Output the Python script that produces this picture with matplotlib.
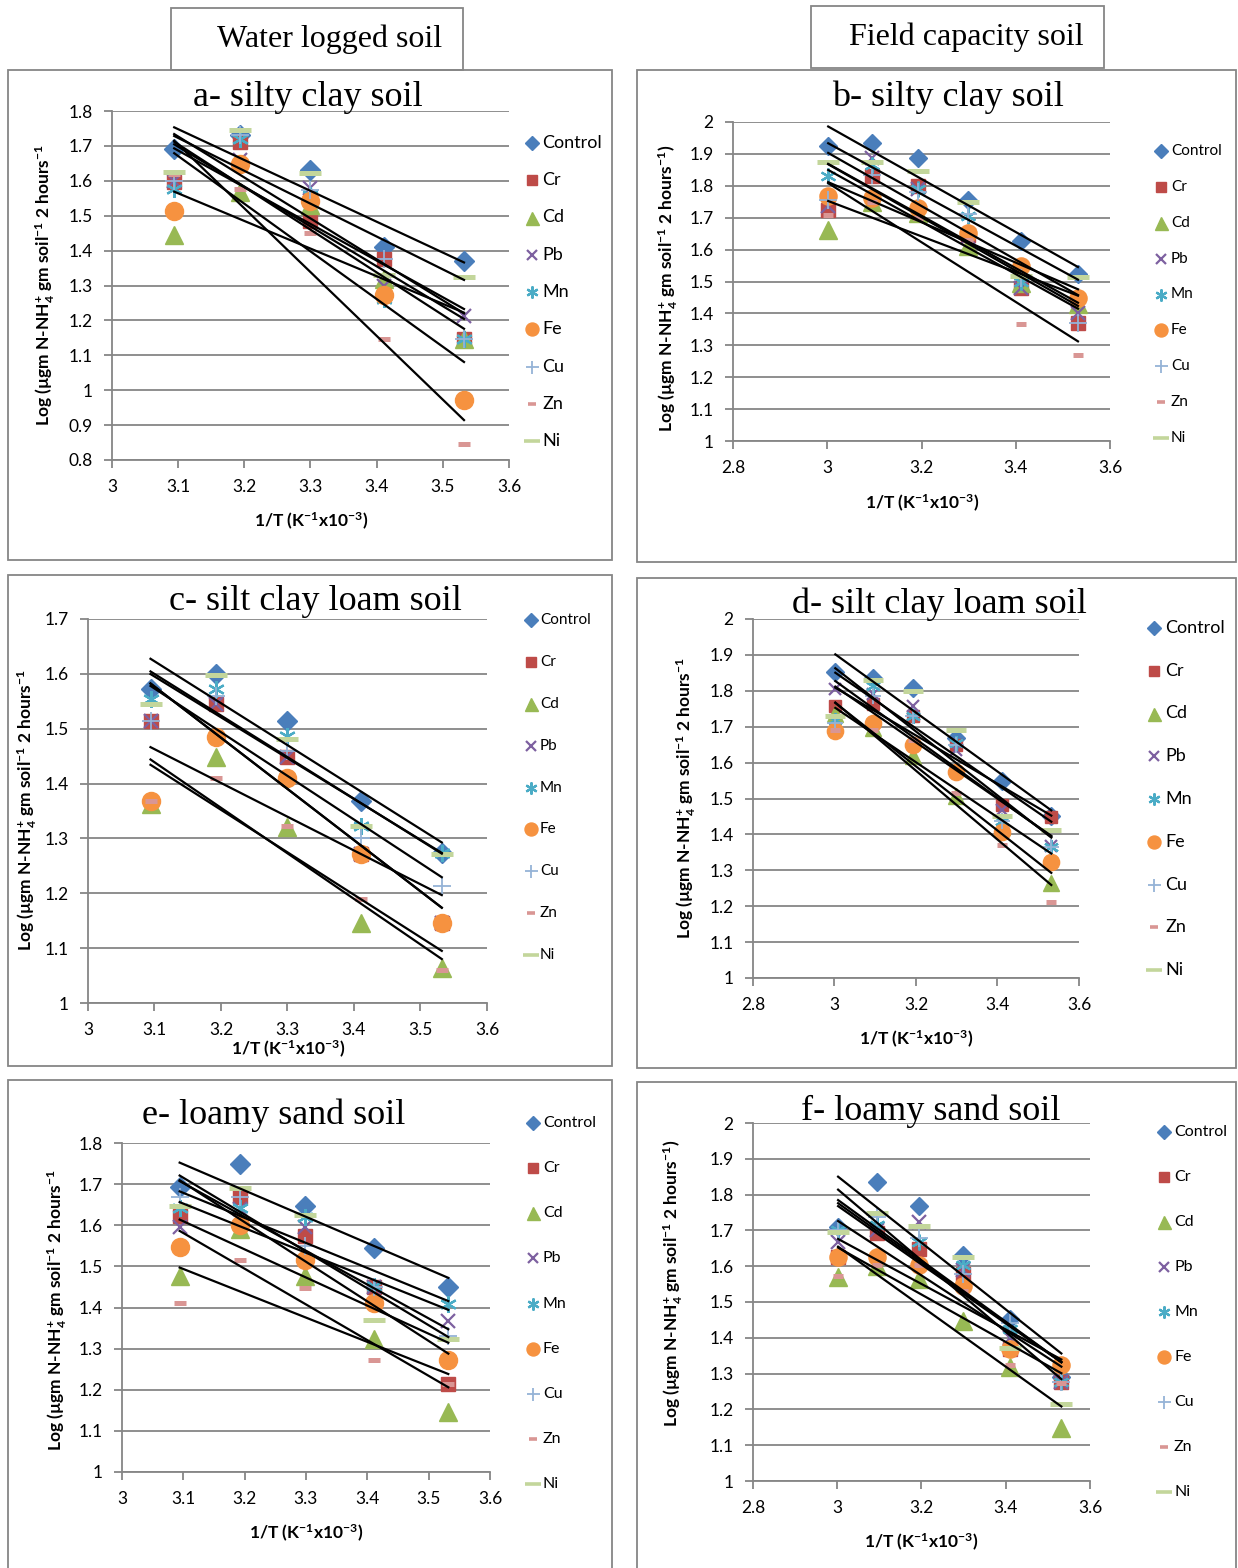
# -*- coding: utf-8 -*-
"""
Arrhenius plots: log NH4+ release vs 1/T for six soils with heavy metal treatments
"""
import numpy as np
import matplotlib.pyplot as plt
from matplotlib.lines import Line2D
from matplotlib.patches import Rectangle
from matplotlib.ticker import FuncFormatter

plt.rcParams['font.family'] = ['Lato', 'DejaVu Sans']
plt.rcParams['mathtext.fontset'] = 'custom'
plt.rcParams['mathtext.rm'] = 'Lato'
plt.rcParams['mathtext.bf'] = 'Lato:bold'
plt.rcParams['mathtext.it'] = 'Lato:italic'

# ---- data ----
metals = ['Control', 'Cr', 'Cd', 'Pb', 'Mn', 'Fe', 'Cu', 'Zn', 'Ni']
x5 = [3.094, 3.193, 3.299, 3.411, 3.532]          # 1/T, 50..10 C
x6 = [3.002, 3.094, 3.193, 3.299, 3.411, 3.532]   # 1/T, 60..10 C

# a- silty clay soil, water logged
vals_a = [[1.69, 1.73, 1.63, 1.41, 1.37],
          [1.596, 1.71, 1.485, 1.375, 1.147],
          [1.444, 1.567, 1.53, 1.318, 1.147],
          [1.60, 1.66, 1.58, 1.30, 1.212],
          [1.577, 1.72, 1.56, 1.26, 1.147],
          [1.514, 1.649, 1.543, 1.272, 0.971],
          [1.60, 1.73, 1.575, 1.375, 1.147],
          [1.62, 1.577, 1.45, 1.147, 0.845],
          [1.625, 1.745, 1.622, 1.33, 1.323]]
# b- silty clay soil, field capacity
vals_b = [[1.924, 1.934, 1.887, 1.757, 1.626, 1.525],
          [1.725, 1.83, 1.80, 1.647, 1.48, 1.37],
          [1.663, 1.75, 1.715, 1.61, 1.496, 1.43],
          [1.736, 1.887, 1.79, 1.64, 1.48, 1.40],
          [1.83, 1.866, 1.79, 1.705, 1.50, 1.45],
          [1.767, 1.762, 1.73, 1.652, 1.548, 1.447],
          [1.757, 1.835, 1.78, 1.713, 1.51, 1.37],
          [1.71, 1.75, 1.70, 1.63, 1.368, 1.271],
          [1.874, 1.874, 1.846, 1.749, 1.517, 1.515]]
# c- silt clay loam soil, water logged
vals_c = [[1.572, 1.60, 1.514, 1.368, 1.274],
          [1.514, 1.545, 1.448, 1.271, 1.146],
          [1.362, 1.448, 1.32, 1.146, 1.064],
          [1.514, 1.545, 1.448, 1.271, 1.146],
          [1.554, 1.572, 1.487, 1.323, 1.274],
          [1.368, 1.484, 1.411, 1.271, 1.146],
          [1.514, 1.56, 1.46, 1.30, 1.213],
          [1.368, 1.41, 1.323, 1.19, 1.06],
          [1.545, 1.598, 1.482, 1.323, 1.271]]
# d- silt clay loam soil, field capacity
vals_d = [[1.851, 1.837, 1.809, 1.669, 1.548, 1.45],
          [1.758, 1.762, 1.73, 1.65, 1.483, 1.448],
          [1.734, 1.697, 1.618, 1.508, 1.42, 1.264],
          [1.804, 1.79, 1.758, 1.636, 1.469, 1.368],
          [1.72, 1.814, 1.73, 1.655, 1.436, 1.366],
          [1.688, 1.711, 1.648, 1.573, 1.408, 1.324],
          [1.711, 1.786, 1.73, 1.65, 1.436, 1.366],
          [1.692, 1.692, 1.664, 1.515, 1.371, 1.213],
          [1.73, 1.83, 1.80, 1.692, 1.45, 1.411]]
# e- loamy sand soil, water logged
vals_e = [[1.692, 1.75, 1.648, 1.545, 1.449],
          [1.622, 1.668, 1.575, 1.449, 1.214],
          [1.477, 1.59, 1.477, 1.323, 1.145],
          [1.595, 1.64, 1.595, 1.45, 1.368],
          [1.643, 1.643, 1.62, 1.453, 1.408],
          [1.546, 1.60, 1.515, 1.412, 1.272],
          [1.668, 1.668, 1.55, 1.45, 1.33],
          [1.41, 1.515, 1.448, 1.273, 1.214],
          [1.648, 1.69, 1.625, 1.369, 1.323]]
# f- loamy sand soil, field capacity
vals_f = [[1.709, 1.835, 1.768, 1.63, 1.453, 1.29],
          [1.625, 1.693, 1.649, 1.579, 1.369, 1.276],
          [1.569, 1.60, 1.565, 1.448, 1.318, 1.148],
          [1.667, 1.70, 1.723, 1.59, 1.40, 1.276],
          [1.70, 1.714, 1.667, 1.602, 1.425, 1.276],
          [1.625, 1.625, 1.602, 1.546, 1.369, 1.325],
          [1.70, 1.737, 1.68, 1.579, 1.44, 1.276],
          [1.574, 1.602, 1.602, 1.53, 1.325, 1.273],
          [1.695, 1.749, 1.712, 1.625, 1.371, 1.214]]

# excel-like marker styles, same order as metals
styles = [dict(marker='D', ms=10, mew=1, color='#4A7EBB'),
          dict(marker='s', ms=10, mew=1, color='#BE4B48'),
          dict(marker='^', ms=13, mew=1, color='#98B954'),
          dict(marker='x', ms=10, mew=1.6, color='#7D60A0'),
          dict(marker=(6, 2, 0), ms=12, mew=1.6, color='#4BACC6'),
          dict(marker='o', ms=13, mew=1, color='#F69240'),
          dict(marker='+', ms=13, mew=1.3, color='#95B3D7'),
          dict(marker='_', ms=8, mew=3.6, color='#D99694'),
          dict(marker='_', ms=16, mew=3.6, color='#C3D69B')]

W, H = 1238, 1568
fig = plt.figure(figsize=(W / 100, H / 100), dpi=100)
GRAY = '#868686'


def fx(px):
    return px / W


def fy(py):
    return 1 - py / H


def box(x0, y0, x1, y1):
    fig.add_artist(Rectangle((fx(x0), fy(y1)), (x1 - x0) / W, (y1 - y0) / H,
                             transform=fig.transFigure, fill=False, ec=GRAY, lw=1.3))


ylab1 = r'Log (µgm N-NH$_\mathbf{4}^\mathbf{+}$ gm soil$^\mathbf{-1}$ 2 hours$^\mathbf{-1}$'
ylab2 = ylab1 + ')'
xlab = r'1/T (K$^\mathbf{-1}$x10$^\mathbf{-3}$)'

# title, values, x, chart box, plot area (l,t,r,b), xlim, ylim, title pos, xlabel pos, ylabel, ylabel pos,
# legend (marker x, text x, first y, last y, fontsize), marker scale
panels = [
    ('a- silty clay soil', vals_a, x5, (8, 70, 612, 560), (112, 111, 509, 460), (3, 3.6), (0.8, 1.8),
     (308, 97), (311, 521), ylab1, (45, 285), (532, 542, 143, 441, 13), 1.0),
    ('b- silty clay soil', vals_b, x6, (637, 70, 1236, 562), (733, 122, 1110, 441), (2.8, 3.6), (1, 2),
     (948, 97), (922, 503), ylab2, (668, 288), (1161, 1171, 151, 438, 11), 0.95),
    ('c- silt clay loam soil', vals_c, x5, (8, 575, 612, 1066), (88, 619, 487, 1003), (3, 3.6), (1, 1.7),
     (315, 602), (288, 1049), ylab1, (27, 810), (531, 540, 620, 955, 11), 1.0),
    ('d- silt clay loam soil', vals_d, x6, (637, 578, 1236, 1068), (753, 619, 1079, 978), (2.8, 3.6), (1, 2),
     (939, 604), (916, 1039), ylab1, (686, 798), (1154, 1165, 628, 970, 13), 0.9),
    ('e- loamy sand soil', vals_e, x5, (8, 1080, 612, 1600), (122, 1143, 490, 1472), (3, 3.6), (1, 1.8),
     (274, 1115), (306, 1533), ylab1, (57, 1310), (533, 543, 1123, 1484, 11.5), 1.0),
    ('f- loamy sand soil', vals_f, x6, (637, 1082, 1236, 1600), (753, 1123, 1090, 1481), (2.8, 3.6), (1, 2),
     (931, 1111), (921, 1542), ylab2, (673, 1283), (1164, 1174, 1132, 1492, 11.5), 0.95),
]

fmt = FuncFormatter(lambda v, p: '%g' % round(v, 2))

for (title, vals, xs, cbox, parea, xl, yl, tpos, xlpos, ylab, ylpos, leg, msc) in panels:
    box(*cbox)
    l, t, r, b = parea
    ax = fig.add_axes([fx(l), fy(b), (r - l) / W, (b - t) / H])
    ax.set_xlim(*xl)
    ax.set_ylim(*yl)
    ax.set_xticks(np.round(np.arange(xl[0], xl[1] + 0.001, 0.2 if xl[0] < 3 else 0.1), 2))
    ax.set_yticks(np.round(np.arange(yl[0], yl[1] + 0.001, 0.1), 2))
    ax.xaxis.set_major_formatter(fmt)
    ax.yaxis.set_major_formatter(fmt)
    ax.yaxis.grid(True, color=GRAY, lw=1.3)
    ax.set_axisbelow(True)
    for s in ['top', 'right']:
        ax.spines[s].set_visible(False)
    for s in ['left', 'bottom']:
        ax.spines[s].set_color(GRAY)
        ax.spines[s].set_linewidth(1.3)
    ax.tick_params(direction='out', length=6, width=1.3, color=GRAY, labelsize=12.5, pad=8)
    ax.patch.set_alpha(0)

    # markers
    for i, name in enumerate(metals):
        st = dict(styles[i])
        st['ms'] = st['ms'] * msc
        ax.plot(xs, vals[i], linestyle='none', clip_on=False, zorder=3, **st)
    # linear trend lines
    for i, name in enumerate(metals):
        k, c0 = np.polyfit(xs, vals[i], 1)
        xx = np.array([xs[0], xs[-1]])
        ax.plot(xx, k * xx + c0, color='black', lw=1.6, zorder=5)

    fig.text(fx(tpos[0]), fy(tpos[1]), title, ha='center', va='center',
             family='Liberation Serif', fontsize=26)
    fig.text(fx(xlpos[0]), fy(xlpos[1]), xlab, ha='center', va='center',
             fontsize=12.5, weight='bold')
    fig.text(fx(ylpos[0]), fy(ylpos[1]), ylab, ha='center', va='center',
             rotation=90, fontsize=12.5, weight='bold')

    # legend
    mx, tx, ly0, ly1, lfs = leg
    for j, name in enumerate(metals):
        yy = ly0 + j * (ly1 - ly0) / 8.0
        st = dict(styles[j])
        st['ms'] = st['ms'] * 0.72
        if j >= 7:
            st['mew'] = 2.6
        fig.add_artist(Line2D([fx(mx)], [fy(yy)], transform=fig.transFigure,
                              linestyle='none', **st))
        fig.text(fx(tx), fy(yy), name, ha='left', va='center', fontsize=lfs)

# header boxes
box(171, 8, 463, 70)
fig.text(fx(330), fy(39), 'Water logged soil', ha='center', va='center',
         family='Liberation Serif', fontsize=23)
box(811, 6, 1104, 68)
fig.text(fx(966), fy(37), 'Field capacity soil', ha='center', va='center',
         family='Liberation Serif', fontsize=23)

plt.savefig('out.png', dpi=100)
